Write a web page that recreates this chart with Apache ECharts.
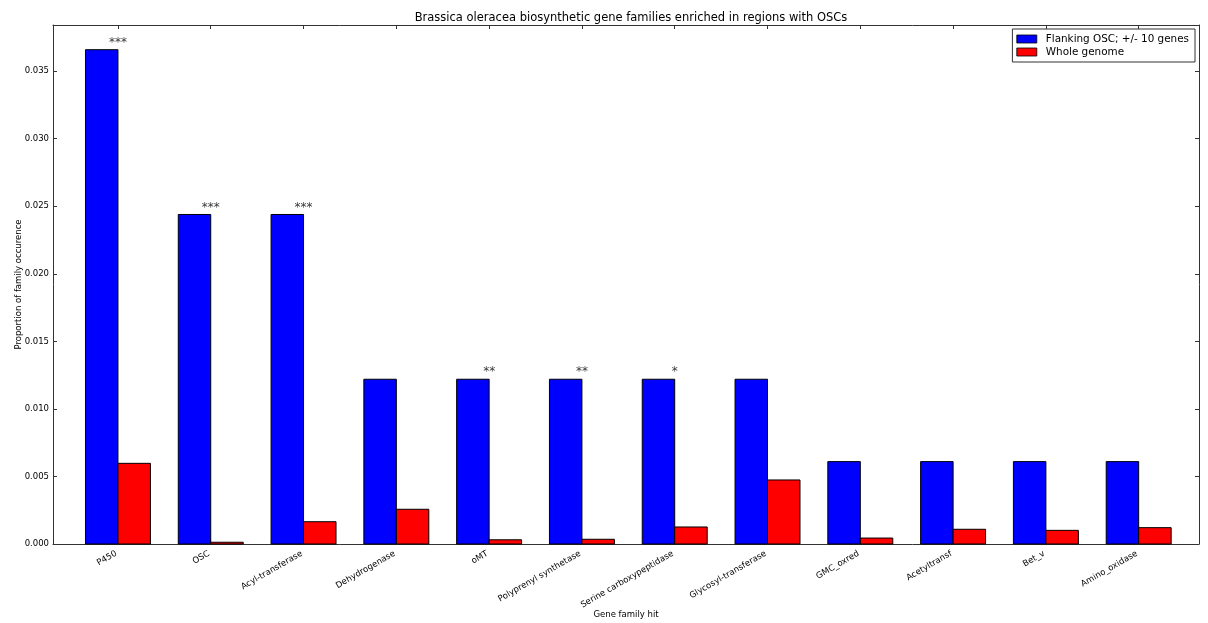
<!DOCTYPE html>
<html>
<head>
<meta charset="utf-8">
<script src="https://cdn.jsdelivr.net/npm/echarts@6/dist/echarts.min.js"></script>
<style>
  html, body { margin: 0; padding: 0; background: #fff; }
  #chart { width: 1208px; height: 623px; }
</style>
</head>
<body>
<div id="chart"></div>
<script>
// Gene families (x categories)
const categories = [
  'P450', 'OSC', 'Acyl-transferase', 'Dehydrogenase', 'oMT',
  'Polyprenyl synthetase', 'Serine carboxypeptidase', 'Glycosyl-transferase',
  'GMC_oxred', 'Acetyltransf', 'Bet_v', 'Amino_oxidase'
];
// Proportion of family occurrence, genes flanking an OSC (+/- 10 genes)
const flanking = [
  0.036585, 0.024390, 0.024390, 0.012195, 0.012195, 0.012195,
  0.012195, 0.012195, 0.006098, 0.006098, 0.006098, 0.006098
];
// Proportion of family occurrence across the whole genome
const wholeGenome = [
  0.00597, 0.00013, 0.00165, 0.00257, 0.00031, 0.00035,
  0.00126, 0.00474, 0.00044, 0.00109, 0.00101, 0.00121
];
// Significance markers above the flanking bars
const significance = ['***', '***', '***', '', '**', '**', '*', '', '', '', '', ''];
// y tick values
const yTicks = [0, 0.005, 0.010, 0.015, 0.020, 0.025, 0.030, 0.035];

const BAR_W = 0.35;
const X_MIN = -0.35;
const X_MAX = 12;
const Y_MAX = Math.max(...flanking) * 1.05;
const xTicks = categories.map((_, i) => i + BAR_W);
const FONT = 'DejaVu Sans';
const AXIS_COLOR = '#333';

function barRenderer(offset) {
  return function (params, api) {
    const x = api.value(0) + offset;
    const v = api.value(1);
    const p0 = api.coord([x, v]);
    const p1 = api.coord([x + BAR_W, 0]);
    return {
      type: 'rect',
      shape: { x: p0[0], y: p0[1], width: p1[0] - p0[0], height: p1[1] - p0[1] },
      style: { fill: api.visual('color'), stroke: '#000', lineWidth: 1 }
    };
  };
}

const chart = echarts.init(document.getElementById('chart'), null, { renderer: 'canvas' });

const xCommon = {
  type: 'value', min: X_MIN, max: X_MAX,
  splitLine: { show: false },
  axisLine: { show: true, onZero: false, lineStyle: { color: AXIS_COLOR, width: 1 } },
  axisTick: { show: true, inside: true, length: 4, customValues: xTicks, lineStyle: { color: AXIS_COLOR } }
};
const yCommon = {
  type: 'value', min: 0, max: Y_MAX,
  splitLine: { show: false },
  axisLine: { show: true, onZero: false, lineStyle: { color: AXIS_COLOR, width: 1 } },
  axisTick: { show: true, inside: true, length: 4, customValues: yTicks, lineStyle: { color: AXIS_COLOR } }
};

chart.setOption({
  animation: false,
  backgroundColor: '#fff',
  textStyle: { fontFamily: FONT },
  title: {
    text: 'Brassica oleracea biosynthetic gene families enriched in regions with OSCs',
    left: 626, top: 7, textAlign: 'center',
    textStyle: { fontFamily: FONT, fontSize: 11.5, fontWeight: 'normal', color: '#000' }
  },
  legend: {
    orient: 'vertical',
    right: 13, top: 29,
    data: [
      { name: 'Flanking OSC; +/- 10 genes', icon: 'rect' },
      { name: 'Whole genome', icon: 'rect' }
    ],
    itemWidth: 20, itemHeight: 8, itemGap: 3,
    padding: [5, 6, 5, 4],
    backgroundColor: '#fff',
    borderColor: AXIS_COLOR, borderWidth: 1, borderRadius: 0,
    itemStyle: { borderColor: '#000', borderWidth: 0.8 },
    textStyle: { fontFamily: FONT, fontSize: 10.4, color: '#000', padding: [0, 0, 0, 4] }
  },
  grid: { left: 53, right: 9, top: 25, bottom: 79, containLabel: false, outerBoundsMode: 'none' },
  xAxis: [
    Object.assign({}, xCommon, {
      position: 'bottom',
      name: 'Gene family hit', nameLocation: 'middle', nameGap: 66, nameMoveOverlap: false,
      nameTextStyle: { fontFamily: FONT, fontSize: 8.5, color: '#000' },
      axisLabel: {
        show: true, rotate: 30, margin: 8,
        customValues: xTicks,
        fontFamily: FONT, fontSize: 8.5, color: '#000',
        padding: [0, 2, 0, 0],
        formatter: v => categories[Math.round(v - BAR_W)] || ''
      }
    }),
    Object.assign({}, xCommon, { position: 'top', axisLabel: { show: false } })
  ],
  yAxis: [
    Object.assign({}, yCommon, {
      position: 'left',
      name: 'Proportion of family occurence', nameLocation: 'middle', nameGap: 30, nameMoveOverlap: false,
      nameTextStyle: { fontFamily: FONT, fontSize: 8.5, color: '#000' },
      axisLabel: {
        show: true, margin: 4,
        customValues: yTicks,
        fontFamily: FONT, fontSize: 8.5, color: '#000',
        formatter: v => v.toFixed(3)
      }
    }),
    Object.assign({}, yCommon, { position: 'right', axisLabel: { show: false } })
  ],
  series: [
    {
      name: 'Flanking OSC; +/- 10 genes',
      type: 'custom',
      xAxisIndex: 0, yAxisIndex: 0,
      itemStyle: { color: '#0000ff' },
      renderItem: barRenderer(0),
      encode: { x: 0, y: 1 },
      data: flanking.map((v, i) => [i, v])
    },
    {
      name: 'Whole genome',
      type: 'custom',
      xAxisIndex: 0, yAxisIndex: 0,
      itemStyle: { color: '#ff0000' },
      renderItem: barRenderer(BAR_W),
      encode: { x: 0, y: 1 },
      data: wholeGenome.map((v, i) => [i, v])
    },
    {
      name: 'significance',
      type: 'scatter',
      xAxisIndex: 0, yAxisIndex: 0,
      symbolSize: 0,
      silent: true,
      label: {
        show: true, position: 'top', distance: 1,
        fontFamily: FONT, fontSize: 12, color: '#000'
      },
      data: flanking
        .map((v, i) => ({ value: [i + BAR_W, v], label: { formatter: significance[i] } }))
        .filter((d, i) => significance[i] !== '')
    }
  ]
});
</script>
</body>
</html>
